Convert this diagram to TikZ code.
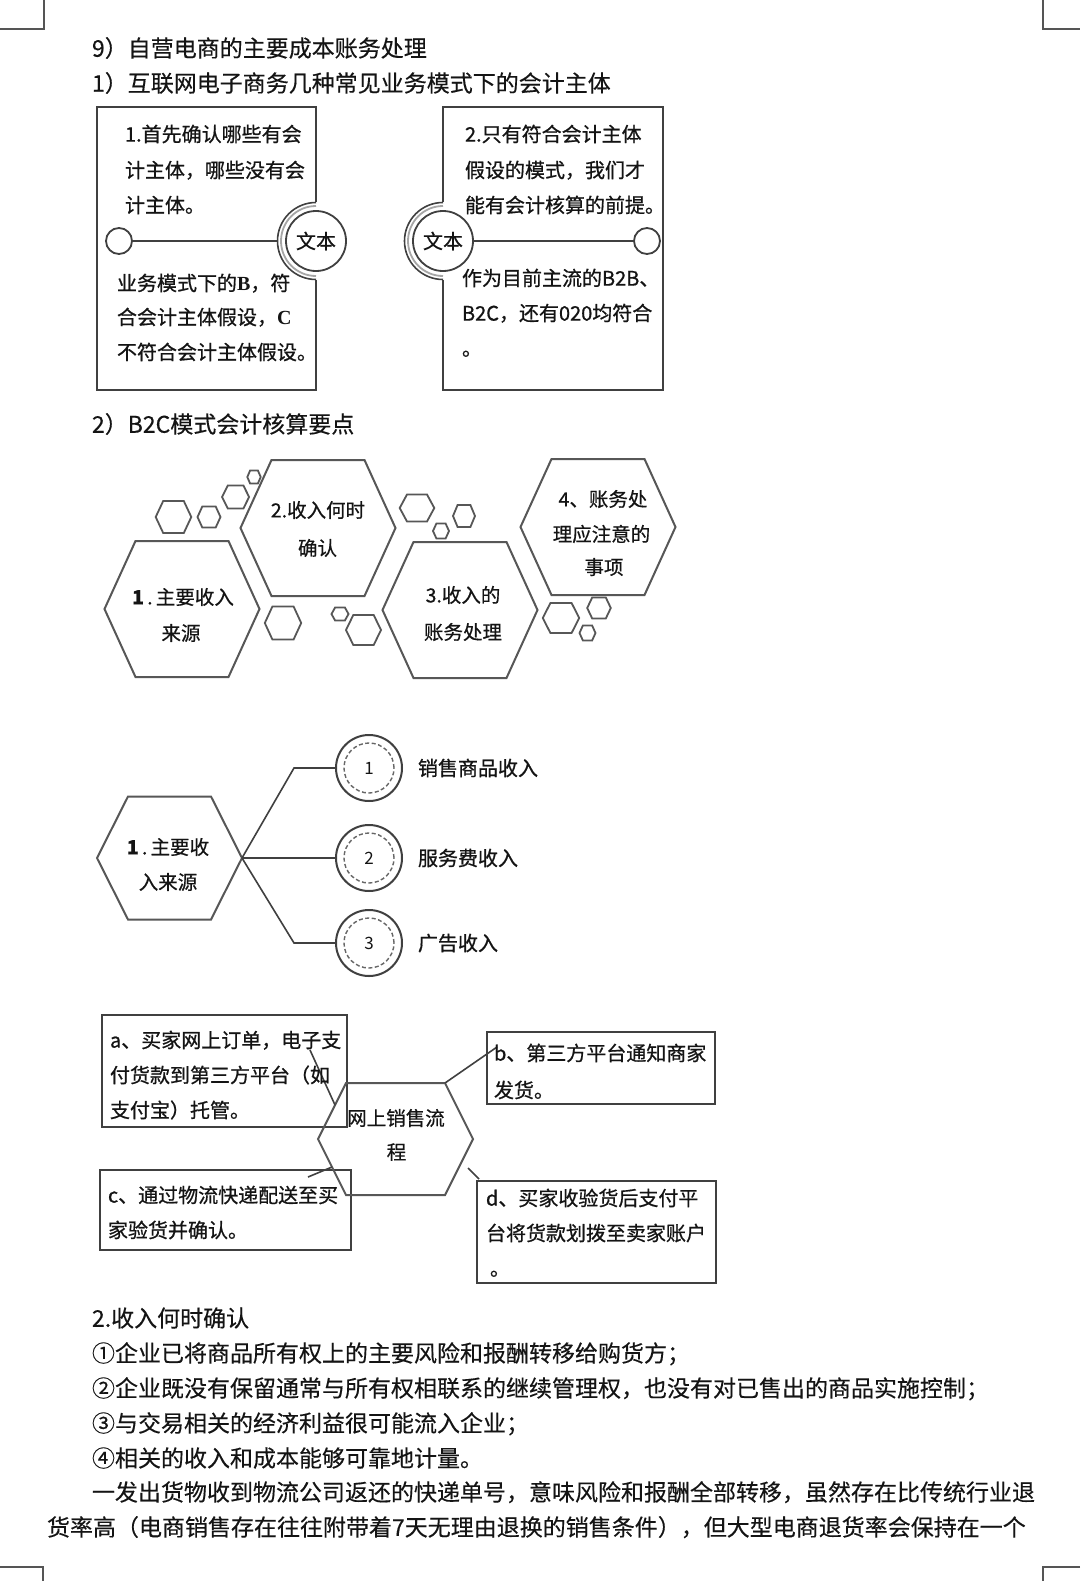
\documentclass[tikz,border=0pt]{standalone}
\usepackage{fontspec}
\setmainfont{Noto Sans CJK SC}
\newfontfamily\serifbf{Liberation Serif}
\definecolor{ln}{HTML}{404040}
\definecolor{hx}{HTML}{575757}
\definecolor{tx}{HTML}{141414}
\definecolor{cm}{HTML}{555555}
\newcommand{\hexa}[6][hexline]{\draw[#1] (#2-#4,#3) -- (#2-#4+#6,#3-#5) -- (#2+#4-#6,#3-#5) -- (#2+#4,#3) -- (#2+#4-#6,#3+#5) -- (#2-#4+#6,#3+#5) -- cycle;}
\tikzset{
  T23/.style={font=\fontsize{23}{23}\selectfont\addfontfeatures{FakeBold=0.3}, text=tx, inner sep=0, outer sep=0, text height=19.1pt, text depth=1.6pt, anchor=west},
  T20/.style={font=\fontsize{20}{20}\selectfont\addfontfeatures{FakeBold=0.8}, text=tx, inner sep=0, outer sep=0, text height=16.6pt, text depth=1.4pt, anchor=west},
  T195c/.style={font=\fontsize{19.5}{19.5}\selectfont\addfontfeatures{FakeBold=0.6}, text=tx, inner sep=0, outer sep=0, text height=16.2pt, text depth=1.4pt, anchor=center},
  hexline/.style={draw=hx, line width=2pt, line join=miter},
  smallhex/.style={draw=hx, line width=1.8pt, line join=miter},
  boxline/.style={draw=ln, line width=2pt, line join=miter},
  ringo/.style={draw=ln, line width=1.6pt},
  ringi/.style={draw=gray!70, line width=1.8pt},
  ringnode/.style={circle, draw=ln, line width=1.8pt, fill=white, minimum size=60pt, inner sep=0, font=\fontsize{20}{20}\selectfont\addfontfeatures{FakeBold=0.6}, text=tx},
  dotnode/.style={circle, draw=ln, line width=1.8pt, fill=white, minimum size=26pt, inner sep=0},
  conn/.style={draw=ln, line width=1.6pt},
  numc/.style={circle, draw=ln, line width=2pt, fill=white, minimum size=66pt, inner sep=0, font=\fontsize{17}{17}\selectfont, text=tx},
  dashc/.style={draw=gray!80!black, line width=1.4pt, dash pattern=on 4pt off 2.5pt},
  fbox/.style={rectangle, draw=ln, line width=2.2pt, inner sep=0, outer sep=0},
  corner/.style={draw=cm, line width=1.5pt}
}
\begin{document}
\begin{tikzpicture}[x=1pt,y=-1pt]
\useasboundingbox (0,0) rectangle (1080,1581);
\fill[white] (0,0) rectangle (1080,1581);

% corner marks
\draw[corner] (44,0) -- (44,29) -- (0,29);
\draw[corner] (1043,0) -- (1043,29) -- (1080,29);
\draw[corner] (0,1567) -- (43,1567) -- (43,1581);
\draw[corner] (1080,1567) -- (1043,1567) -- (1043,1581);

% headings
\node[T23] (h9) at (92,48) {9）自营电商的主要成本账务处理};
\node[T23] (h1) at (92,83) {1）互联网电子商务几种常见业务模式下的会计主体};

% ---- left box ----
\draw[boxline] (316,202) -- (316,107) -- (97,107) -- (97,390) -- (316,390) -- (316,280);
\draw[ringo] (316,202.5) arc[start angle=90, end angle=270, radius=38.5pt];
\draw[ringi] (316,206) arc[start angle=90, end angle=270, radius=35pt];
\coordinate (ringLw) at (277.5,241);
\node[dotnode] (d1) at (119,241) {};
\draw[conn] (d1.east) -- (ringLw);
\node[ringnode] (wb1) at (316,241) {文本};
\node[T20] (l1) at (125,134) {1.首先确认哪些有会};
\node[T20] (l2) at (125,170) {计主体，哪些没有会};
\node[T20] (l3) at (125,205) {计主体。};
\node[T20] (l4) at (117,283) {业务模式下的{\serifbf\bfseries B}，符};
\node[T20] (l5) at (117,317) {合会计主体假设，{\serifbf\bfseries C}};
\node[T20] (l6) at (117,352) {不符合会计主体假设。};

% ---- right box ----
\draw[boxline] (443,202) -- (443,107) -- (663,107) -- (663,390) -- (443,390) -- (443,280);
\draw[ringo] (443,202.5) arc[start angle=90, end angle=270, radius=38.5pt];
\draw[ringi] (443,206) arc[start angle=90, end angle=270, radius=35pt];
\node[ringnode] (wb2) at (443,241) {文本};
\node[dotnode] (d2) at (647,241) {};
\draw[conn] (wb2.east) -- (d2.west);
\node[T20] (r1) at (465,134) {2.只有符合会计主体};
\node[T20] (r2) at (465,170) {假设的模式，我们才};
\node[T20] (r3) at (465,205) {能有会计核算的前提。};
\node[T20] (r4) at (462,278) {作为目前主流的B2B、};
\node[T20] (r5) at (462,313) {B2C，还有020均符合};
\node[T20] (r6) at (462,348) {。};

% ---- B2C heading ----
\node[T23] (h2) at (92,424) {2）B2C模式会计核算要点};

% big hexagons
\hexa{182}{609}{77.5}{68}{31}
\hexa{318}{528}{77.5}{68}{31}
\hexa{460}{610}{77.5}{68}{31}
\hexa{598}{527}{77.5}{68}{31}
% small hexagons
\hexa[smallhex]{173.5}{517}{17.8}{16}{7.5}
\hexa[smallhex]{209}{517}{11.5}{10.5}{4.8}
\hexa[smallhex]{235.6}{497}{13.5}{11.5}{5.7}
\hexa[smallhex]{254}{477}{6.7}{6.5}{2.8}
\hexa[smallhex]{417}{508}{17.3}{13.5}{7.3}
\hexa[smallhex]{464}{516}{11}{11}{4.6}
\hexa[smallhex]{441}{531}{8}{7.5}{3.4}
\hexa[smallhex]{283}{623}{18.2}{16.5}{7.6}
\hexa[smallhex]{340}{614}{8.5}{6.5}{3.6}
\hexa[smallhex]{363.5}{630}{17.5}{15}{7.3}
\hexa[smallhex]{561}{618}{18.2}{15}{7.6}
\hexa[smallhex]{599}{608}{11.8}{10.5}{5}
\hexa[smallhex]{587.5}{633}{8}{7.5}{3.4}
% hexagon texts
\node[T195c] (x11) at (183,597) {\textbf{1}\,.\,主要收入};
\node[T195c] (x12) at (181,633) {来源};
\node[T195c] (x21) at (318,510) {2.收入何时};
\node[T195c] (x22) at (317.5,548) {确认};
\node[T195c] (x31) at (463,595) {3.收入的};
\node[T195c] (x32) at (463,632) {账务处理};
\node[T195c] (x41) at (603,499) {4、账务处};
\node[T195c] (x42) at (601.5,534) {理应注意的};
\node[T195c] (x43) at (604,567) {事项};

% ---- tree ----
\hexa{169.5}{858}{72.5}{61.5}{31}
\node[T195c] (tr1) at (168,847) {\textbf{1}\,.\,主要收};
\node[T195c] (tr2) at (168,882) {入来源};
\coordinate (trE) at (242,858);
\node[numc] (c1) at (369,768) {1};
\node[numc] (c2) at (369,858) {2};
\node[numc] (c3) at (369,943) {3};
\draw[dashc] (c1.center) circle[radius=25pt];
\draw[dashc] (c2.center) circle[radius=25pt];
\draw[dashc] (c3.center) circle[radius=25pt];
\draw[conn] (trE) -- ++(52,-90) -- (c1.west);
\draw[conn] (trE) -- (c2.west);
\draw[conn] (trE) -- ++(52,85) -- (c3.west);
\node[T20] (lb1) at (418,768) {销售商品收入};
\node[T20] (lb2) at (418,858) {服务费收入};
\node[T20] (lb3) at (418,943) {广告收入};

% ---- online sales flow ----
\node[fbox, minimum width=245pt, minimum height=112pt] (ba) at (224.5,1071) {};
\node[fbox, minimum width=228pt, minimum height=72pt] (bb) at (601,1068) {};
\node[fbox, minimum width=251pt, minimum height=80pt] (bc) at (225.5,1210) {};
\node[fbox, minimum width=239pt, minimum height=102pt] (bd) at (596.5,1232) {};
\hexa{395.5}{1139}{77.5}{56}{28}
\node[T195c] (fh1) at (396,1118) {网上销售流};
\node[T195c] (fh2) at (396.5,1152) {程};
\coordinate (ca1) at (310,1050);
\coordinate (ca2) at (335,1105);
\coordinate (hxTR) at (445,1083);
\coordinate (cb) at (497,1047);
\coordinate (cc1) at (308,1177);
\coordinate (cc2) at (332,1167);
\coordinate (cd1) at (468,1168);
\coordinate (cd2) at (479,1179);
\draw[conn] (ca1) -- (ca2);
\draw[conn] (hxTR) -- (cb);
\draw[conn] (cc1) -- (cc2);
\draw[conn] (cd1) -- (cd2);
\node[T20] (fa1) at (110,1040) {a、买家网上订单，电子支};
\node[T20] (fa2) at (110,1075) {付货款到第三方平台（如};
\node[T20] (fa3) at (110,1110) {支付宝）托管。};
\node[T20] (fb1) at (494,1053) {b、第三方平台通知商家};
\node[T20] (fb2) at (494,1090) {发货。};
\node[T20] (fc1) at (108,1195) {c、通过物流快递配送至买};
\node[T20] (fc2) at (108,1230) {家验货并确认。};
\node[T20] (fd1) at (486,1198) {d、买家收验货后支付平};
\node[T20] (fd2) at (486,1233) {台将货款划拨至卖家账户};
\node[T20] (fd3) at (490,1268) {。};

% ---- bottom text ----
\node[T23] (p0) at (92,1318) {2.收入何时确认};
\node[T23] (p1) at (92,1353) {①企业已将商品所有权上的主要风险和报酬转移给购货方；};
\node[T23] (p2) at (92,1388) {②企业既没有保留通常与所有权相联系的继续管理权，也没有对已售出的商品实施控制；};
\node[T23] (p3) at (92,1423) {③与交易相关的经济利益很可能流入企业；};
\node[T23] (p4) at (92,1458) {④相关的收入和成本能够可靠地计量。};
\node[T23] (p5) at (92,1492) {一发出货物收到物流公司返还的快递单号，意味风险和报酬全部转移，虽然存在比传统行业退};
\node[T23] (p6) at (47,1527) {货率高（电商销售存在往往附带着7天无理由退换的销售条件），但大型电商退货率会保持在一个};
\end{tikzpicture}
\end{document}
